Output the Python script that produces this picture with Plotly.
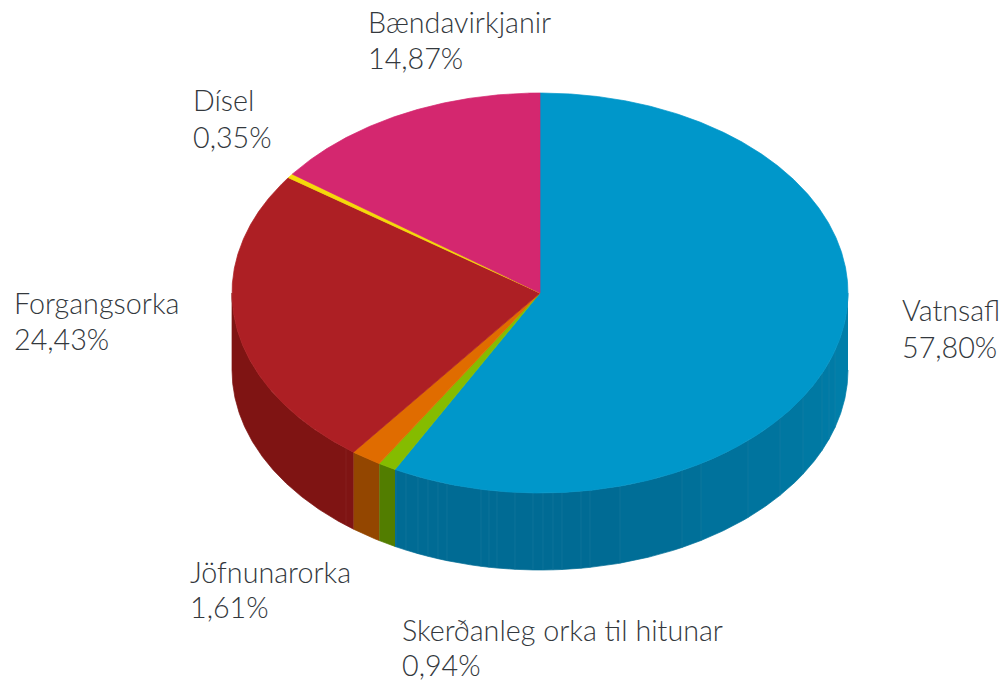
import numpy as np
import plotly.graph_objects as go

# ---- data ----
names = ["Vatnsafl", "Skerðanleg orka til hitunar", "Jöfnunarorka", "Forgangsorka", "Dísel", "Bændavirkjanir"]
values = [57.80, 0.94, 1.61, 24.43, 0.35, 14.87]
value_labels = ["57,80%", "0,94%", "1,61%", "24,43%", "0,35%", "14,87%"]

# ---- style ----
top_colors = ["#0097CA", "#85BC00", "#E06C00", "#AD1F24", "#F5D90A", "#D4276F"]
side_colors = ["#006B94", "#527D00", "#934600", "#7F1413", "#B09A00", "#98154C"]
blue_side_right = "#0080AB"
blue_seam = "#2A86A8"
red_seam = "#963A3A"
W, H = 1007, 682
CX, CY, RX, RY, DEPTH = 540, 293, 308, 200, 77
label_pos = [(901, 310, 347), (401, 630, 665), (189, 572, 607), (13, 303, 339), (192, 100, 137), (367, 22, 58)]
blue_seam_px = [396, 406, 418, 428, 438, 447, 481, 489, 497, 515, 533, 543, 553, 562, 581, 590, 620,
                682, 701, 748, 780, 803, 822, 829, 835]
red_seam_px = [346]
TEXT = "#33383D"


def pt(deg, drop=0.0):
    a = np.radians(deg)
    return CX + RX * np.sin(a), CY - RY * np.cos(a) + drop


def arc(a0, a1, drop=0.0, step=0.25):
    n = max(2, int(abs(a1 - a0) / step) + 1)
    return pt(np.linspace(a0, a1, n), drop)


def mix(c0, c1, t):
    a = [int(c0[i:i + 2], 16) for i in (1, 3, 5)]
    b = [int(c1[i:i + 2], 16) for i in (1, 3, 5)]
    return "rgb(%d,%d,%d)" % tuple(round(p + (q - p) * t) for p, q in zip(a, b))


def poly(x, y, color):
    return go.Scatter(x=list(x), y=list(y), mode="lines", fill="toself", fillcolor=color,
                      line=dict(color=color, width=0.7), hoverinfo="skip", showlegend=False)


def side(a0, a1, color):
    xt, yt = arc(a0, a1)
    xb, yb = arc(a1, a0, DEPTH)
    return poly(np.r_[xt, xb], np.r_[yt, yb], color)


def seam_angle(px):
    # angle on the front half of the ellipse for this horizontal position
    return 180 - np.degrees(np.arcsin((px - CX) / RX))


def seam(px, color):
    a = seam_angle(px)
    x0, y0 = pt(a)
    x1, y1 = pt(a, DEPTH)
    return go.Scatter(x=[x0, x1], y=[y0, y1], mode="lines", line=dict(color=color, width=0.6),
                      opacity=0.5, hoverinfo="skip", showlegend=False)


edges = np.r_[0, np.cumsum(values)] * 3.6
fig = go.Figure()

# side wall (front half only)
for i in range(len(values)):
    a0, a1 = edges[i], edges[i + 1]
    lo, hi = max(a0, 90), min(a1, 270)
    if lo >= hi:
        continue
    if i == 0:
        stops = np.r_[lo, sorted(seam_angle(p) for p in blue_seam_px), hi]
        for s0, s1 in zip(stops[:-1], stops[1:]):
            if s1 <= s0:
                continue
            t = ((s0 + s1) / 2 - lo) / (hi - lo)
            fig.add_trace(side(s0, s1, mix(blue_side_right, side_colors[0], min(1, t * 1.5))))
    else:
        fig.add_trace(side(lo, hi, side_colors[i]))

for px in blue_seam_px:
    fig.add_trace(seam(px, blue_seam))
for px in red_seam_px:
    fig.add_trace(seam(px, red_seam))

# top face
for i in range(len(values)):
    xa, ya = arc(edges[i], edges[i + 1])
    fig.add_trace(poly(np.r_[CX, xa, CX], np.r_[CY, ya, CY], top_colors[i]))

# labels
for name, val, (lx, y1, y2) in zip(names, value_labels, label_pos):
    for txt, ly in ((name, y1), (val, y2)):
        fig.add_annotation(x=lx, y=ly, text=txt, xref="x", yref="y", xanchor="left", yanchor="middle",
                           showarrow=False, borderpad=0, align="left",
                           font=dict(family="Lato", size=28.7, color=TEXT, weight=300))

fig.update_layout(
    width=W, height=H, margin=dict(l=0, r=0, t=0, b=0),
    paper_bgcolor="white", plot_bgcolor="white", showlegend=False,
    xaxis=dict(range=[0, W], visible=False, fixedrange=True),
    yaxis=dict(range=[H, 0], visible=False, fixedrange=True),
)
fig.write_html("out.html", config={"displayModeBar": False},
               post_script="document.body.style.margin='0';document.body.style.overflow='hidden';")
